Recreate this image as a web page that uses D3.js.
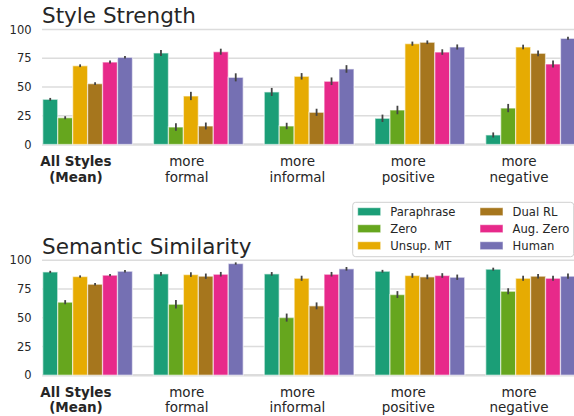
<!DOCTYPE html>
<html lang="en">
  <head>
    <meta charset="utf-8">
    <title>Style Strength / Semantic Similarity</title>
    <script src="https://d3js.org/d3.v7.js"></script>
    <style>
      body { margin: 0; background: #fff; }
      text { font-family: "DejaVu Sans", sans-serif; fill: #262626; }
    </style>
  </head>
  <body>
    <script>

  // categories and series
  var categories = ["All Styles|(Mean)", "more|formal", "more|informal", "more|positive", "more|negative"];
  var systems = ["Paraphrase", "Zero", "Unsup. MT", "Dual RL", "Aug. Zero", "Human"];
  var yTicks = [0, 25, 50, 75, 100];

  // style strength, one row per system (values per category)
  var styleParaphrase = [39.3, 79.6, 45.7, 22.8, 8.3];
  var styleZero       = [23.3, 15.2, 16.1, 30.0, 31.7];
  var styleUnsup      = [68.5, 42.2, 59.3, 87.7, 84.8];
  var styleDual       = [52.9, 16.1, 28.0, 88.9, 79.3];
  var styleAug        = [71.7, 80.7, 55.0, 80.4, 70.0];
  var styleHuman      = [75.8, 58.4, 65.7, 84.8, 92.3];
  var styleErr = [[1.2, 2.6, 3.5, 3.2, 2.2], [1.3, 3.2, 2.8, 3.7, 3.6], [1.2, 3.6, 2.8, 1.8, 2.0],
                  [1.2, 3.0, 3.1, 1.6, 2.5], [1.3, 2.6, 3.3, 2.4, 3.0], [1.1, 3.5, 3.3, 2.2, 1.3]];

  // semantic similarity
  var simParaphrase = [89.8, 88.1, 88.1, 90.4, 92.2];
  var simZero       = [63.5, 61.7, 50.1, 70.1, 73.0];
  var simUnsup      = [85.8, 87.5, 84.3, 86.7, 84.3];
  var simDual       = [79.1, 86.1, 60.3, 85.5, 86.1];
  var simAug        = [87.0, 87.8, 87.8, 86.7, 84.3];
  var simHuman      = [90.4, 97.1, 92.5, 85.2, 86.1];
  var simErr = [[1.0, 1.7, 1.6, 1.2, 1.3], [1.8, 3.6, 3.5, 3.0, 2.6], [1.0, 2.0, 2.2, 2.0, 2.2],
                [1.1, 2.3, 3.0, 2.0, 2.0], [1.0, 2.0, 2.0, 2.0, 2.2], [1.0, 1.0, 1.6, 2.3, 2.3]];

  var colors = d3.scaleOrdinal()
    .domain(systems)
    .range(["#1b9e77", "#66a61e", "#e6ab02", "#a6761d", "#e7298a", "#7570b3"]);

  var w = 574, h = 416;

  var svg = d3.select("body")
    .append("svg")
    .attr("width", w)
    .attr("height", h);

  // category scale (tick labels centred in each band)
  var xScale = d3.scaleBand()
    .domain(categories)
    .range([20.6, 574.35])
    .padding(0);

  var step = xScale.bandwidth();

  var xInner = d3.scaleBand()
    .domain(systems)
    .range([0.2 * step, 1.01 * step])
    .padding(0);

  var plotLeft = xScale(categories[0]) + 0.2 * step - 0.7;

  function drawPanel(title, rows, errs, top, bottom) {
    var yScale = d3.scaleLinear()
      .domain([0, 100])
      .range([bottom, top]);

    var g = svg.append("g");

    // grid
    g.selectAll("line.grid")
      .data(yTicks)
      .enter()
      .append("line")
      .attr("x1", plotLeft)
      .attr("x2", w)
      .attr("y1", d => yScale(d))
      .attr("y2", d => yScale(d))
      .attr("stroke", "#dcdcdc")
      .attr("stroke-width", d => d === 0 ? 2.4 : 1.4);

    var yAxis = d3.axisLeft(yScale)
      .tickValues(yTicks)
      .tickSize(0)
      .tickPadding(0);

    var ya = g.append("g")
      .attr("transform", `translate(${plotLeft - 10.5}, 0)`)
      .call(yAxis);
    ya.select(".domain").remove();
    ya.selectAll("text")
      .style("font-family", "DejaVu Sans")
      .style("font-size", "11.5px")
      .attr("fill", "#262626");

    // bars
    var groups = g.selectAll("g.sys")
      .data(rows)
      .enter()
      .append("g")
      .style("fill", (d, i) => colors(systems[i]));

    groups.selectAll("rect")
      .data((d, i) => d.map((v, j) => ({v: v, sys: systems[i], cat: categories[j]})))
      .enter()
      .append("rect")
      .attr("x", d => xScale(d.cat) + xInner(d.sys))
      .attr("y", d => yScale(d.v))
      .attr("width", xInner.bandwidth())
      .attr("height", d => yScale(0) - yScale(d.v))
      .attr("stroke", "#fff")
      .attr("stroke-opacity", 0.55)
      .attr("stroke-width", 1.3);

    // error bars
    rows.forEach((row, i) => {
      g.selectAll(null)
        .data(row.map((v, j) => ({v: v, e: errs[i][j], cat: categories[j]})))
        .enter()
        .append("line")
        .attr("x1", d => xScale(d.cat) + xInner(systems[i]) + xInner.bandwidth() / 2)
        .attr("x2", d => xScale(d.cat) + xInner(systems[i]) + xInner.bandwidth() / 2)
        .attr("y1", d => yScale(d.v - d.e))
        .attr("y2", d => yScale(d.v + d.e))
        .attr("stroke", "#444")
        .attr("stroke-width", 1.8);
    });

    // category labels
    var labels = g.selectAll("text.cat")
      .data(categories)
      .enter()
      .append("text")
      .attr("class", "cat")
      .attr("text-anchor", "middle")
      .attr("x", d => xScale(d) + step / 2)
      .attr("y", bottom + 21.5)
      .style("font-size", "13.5px")
      .style("font-weight", (d, i) => i === 0 ? "bold" : "normal");

    labels.selectAll("tspan")
      .data(d => d.split("|"))
      .enter()
      .append("tspan")
      .attr("x", function () { return d3.select(this.parentNode).attr("x"); })
      .attr("dy", (d, i) => i === 0 ? 0 : 15.6)
      .text(d => d);

    // title
    g.append("text")
      .attr("x", plotLeft)
      .attr("y", top - 6.5)
      .style("font-size", "21.5px")
      .text(title);
  }

  drawPanel("Style Strength",
    [styleParaphrase, styleZero, styleUnsup, styleDual, styleAug, styleHuman], styleErr, 29.5, 144.5);
  drawPanel("Semantic Similarity",
    [simParaphrase, simZero, simUnsup, simDual, simAug, simHuman], simErr, 260.2, 375.2);

  // legend
  var legend = svg.append("g")
    .attr("transform", "translate(352.7, 202.3)");

  legend.append("rect")
    .attr("width", 221)
    .attr("height", 54.4)
    .attr("rx", 3)
    .attr("fill", "#fff")
    .attr("fill-opacity", 0.8)
    .attr("stroke", "#d0d0d0")
    .attr("stroke-width", 1);

  var items = legend.selectAll("g.item")
    .data(systems)
    .enter()
    .append("g")
    .attr("transform", (d, i) => `translate(${i < 3 ? 5 : 127.3}, ${9.4 + (i % 3) * 17})`);

  items.append("rect")
    .attr("width", 23)
    .attr("height", 8)
    .attr("y", -4)
    .attr("fill", d => colors(d))
    .attr("stroke", "#fff")
    .attr("stroke-opacity", 0.55);

  items.append("text")
    .attr("x", 32.6)
    .attr("dy", "0.36em")
    .style("font-size", "11.6px")
    .text(d => d);

    </script>
  </body>
</html>
